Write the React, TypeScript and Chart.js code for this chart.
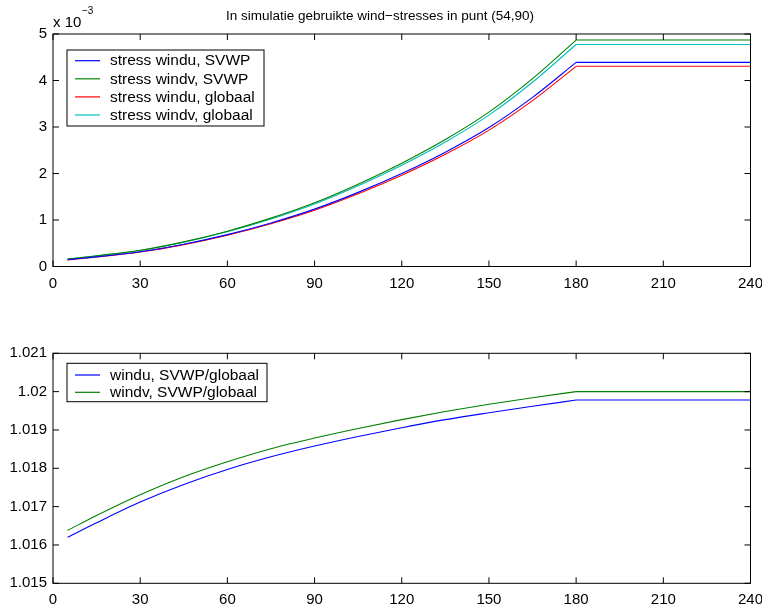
import React, { useEffect, useRef } from "react";
import { Chart, registerables } from "chart.js";

Chart.register(...registerables);

// ---- data ----
const timeSteps = [5, 15, 30, 45, 60, 75, 90, 105, 120, 135, 150, 165, 180, 240];
const plateauStart = 180;

// top panel, values in units of 1e-3
const stressWinduSVWP = [0.145, 0.207, 0.316, 0.478, 0.685, 0.937, 1.234, 1.594, 2.0, 2.459, 2.99, 3.638, 4.39, 4.39];
const stressWindvSVWP = [0.16, 0.23, 0.35, 0.53, 0.76, 1.04, 1.37, 1.77, 2.22, 2.73, 3.32, 4.04, 4.87, 4.87];
const stressWinduGlobaal = [0.1427, 0.2036, 0.3107, 0.4697, 0.6729, 0.9202, 1.2115, 1.5645, 1.9626, 2.4125, 2.9329, 3.568, 4.305, 4.305];
const stressWindvGlobaal = [0.157, 0.226, 0.344, 0.521, 0.746, 1.021, 1.345, 1.737, 2.178, 2.678, 3.256, 3.962, 4.775, 4.775];

// bottom panel, ratios
const ratioWindu = [1.0162, 1.01658, 1.01712, 1.01758, 1.01797, 1.0183, 1.01858, 1.01883, 1.01906, 1.01927, 1.01945, 1.01962, 1.01978, 1.01978];
const ratioWindv = [1.01638, 1.01677, 1.01731, 1.01778, 1.01817, 1.01851, 1.01879, 1.01904, 1.01927, 1.01948, 1.01967, 1.01984, 1.02, 1.02];

const topLabels = ["stress windu, SVWP", "stress windv, SVWP", "stress windu, globaal", "stress windv, globaal"];
const bottomLabels = ["windu, SVWP/globaal", "windv, SVWP/globaal"];
const titleText = "In simulatie gebruikte wind\u2212stresses in punt (54,90)";

const FONT = "'Liberation Sans', Arial, Helvetica, sans-serif";
const W = 762;
const H = 605;

const curvePts = (ys: number[]) =>
  timeSteps.map((x, i) => ({ x, y: ys[i] })).filter((p) => p.x <= plateauStart);
const flatPts = (ys: number[]) =>
  timeSteps.map((x, i) => ({ x, y: ys[i] })).filter((p) => p.x >= plateauStart);

function seriesPair(label: string, ys: number[], color: string) {
  return [
    { label, data: curvePts(ys), borderColor: color, cubicInterpolationMode: "monotone" },
    { label, data: flatPts(ys), borderColor: color, tension: 0, inLegend: false },
  ];
}

const framePlugin = {
  id: "frame",
  afterDraw(chart: any) {
    const { ctx, chartArea } = chart;
    const { left, right, top, bottom } = chartArea;
    const xs = chart.scales.x;
    const ys = chart.scales.y;
    const L = 6;
    ctx.save();
    ctx.strokeStyle = "#000";
    ctx.lineWidth = 1;
    ctx.strokeRect(left, top, right - left, bottom - top);
    ctx.beginPath();
    xs.ticks.forEach((t: any) => {
      const px = xs.getPixelForValue(t.value);
      ctx.moveTo(px, bottom);
      ctx.lineTo(px, bottom - L);
      ctx.moveTo(px, top);
      ctx.lineTo(px, top + L);
    });
    ys.ticks.forEach((t: any) => {
      const py = ys.getPixelForValue(t.value);
      ctx.moveTo(left, py);
      ctx.lineTo(left + L, py);
      ctx.moveTo(right, py);
      ctx.lineTo(right - L, py);
    });
    ctx.stroke();
    // legend box
    const lg = chart.options.plugins.boxLegend;
    if (lg) {
      const bx = left + lg.dx;
      const by = top + lg.dy;
      ctx.fillStyle = "#fff";
      ctx.fillRect(bx, by, lg.w, lg.h);
      ctx.strokeStyle = "#000";
      ctx.strokeRect(bx, by, lg.w, lg.h);
      ctx.font = `${lg.fontSize}px ${FONT}`;
      ctx.textBaseline = "middle";
      ctx.textAlign = "left";
      const entries = chart.data.datasets.filter((d: any) => d.inLegend !== false);
      entries.forEach((ds: any, i: number) => {
        const yy = by + lg.first + i * lg.row;
        ctx.strokeStyle = ds.borderColor;
        ctx.lineWidth = 1.2;
        ctx.beginPath();
        ctx.moveTo(bx + 8, yy);
        ctx.lineTo(bx + 33, yy);
        ctx.stroke();
        ctx.fillStyle = "#000";
        ctx.fillText(ds.label, bx + 43, yy + 0.5);
      });
    }
    ctx.restore();
  },
};

function makeOptions(p: {
  top: number;
  bottom: number;
  ymin: number;
  ymax: number;
  ystep: number;
  fmt: (v: number) => string;
  legend: any;
}) {
  return {
    responsive: false,
    animation: false as const,
    layout: { padding: { top: p.top, right: W - 750.5, left: 0, bottom: 0 } },
    elements: {
      point: { radius: 0 },
      line: { borderWidth: 1.1 },
    },
    plugins: {
      legend: { display: false },
      tooltip: { enabled: false },
      boxLegend: p.legend,
    },
    scales: {
      x: {
        type: "linear" as const,
        min: 0,
        max: 240,
        grid: { display: false, drawTicks: false },
        border: { display: false },
        ticks: { stepSize: 30, color: "#000", font: { size: 15, family: FONT }, padding: 8, maxRotation: 0, autoSkip: false },
        afterFit(s: any) {
          s.height = H - p.bottom;
          s.paddingLeft = 0;
          s.paddingRight = 0;
        },
      },
      y: {
        min: p.ymin,
        max: p.ymax,
        grid: { display: false, drawTicks: false },
        border: { display: false },
        ticks: {
          stepSize: p.ystep,
          color: "#000",
          font: { size: 15, family: FONT },
          padding: 6,
          callback: (v: any) => p.fmt(Number(v)),
        },
        afterFit(s: any) {
          s.width = 53;
          s.paddingTop = 0;
          s.paddingBottom = 0;
        },
      },
    },
  };
}

export default function App() {
  const c1 = useRef<HTMLCanvasElement>(null);
  const c2 = useRef<HTMLCanvasElement>(null);

  useEffect(() => {
    Chart.defaults.font.family = FONT;
    const ch1 = new Chart(c1.current as HTMLCanvasElement, {
      type: "line",
      data: {
        datasets: [
          ...seriesPair(topLabels[0], stressWinduSVWP, "#0000ff"),
          ...seriesPair(topLabels[1], stressWindvSVWP, "#008000"),
          ...seriesPair(topLabels[2], stressWinduGlobaal, "#ff0000"),
          ...seriesPair(topLabels[3], stressWindvGlobaal, "#00bfbf"),
        ] as any,
      },
      options: makeOptions({
        top: 34,
        bottom: 266.5,
        ymin: 0,
        ymax: 5,
        ystep: 1,
        fmt: (v) => String(Math.round(v)),
        legend: { dx: 14, dy: 16, w: 197, h: 76, first: 10.7, row: 18.1, fontSize: 15.5 },
      }) as any,
      plugins: [framePlugin],
    });
    const ch2 = new Chart(c2.current as HTMLCanvasElement, {
      type: "line",
      data: {
        datasets: [
          ...seriesPair(bottomLabels[0], ratioWindu, "#0000ff"),
          ...seriesPair(bottomLabels[1], ratioWindv, "#008000"),
        ] as any,
      },
      options: makeOptions({
        top: 353.3,
        bottom: 583.3,
        ymin: 1.015,
        ymax: 1.021,
        ystep: 0.001,
        fmt: (v) => String(Number(v.toFixed(3))),
        legend: { dx: 14, dy: 10, w: 200, h: 38.4, first: 11.7, row: 17.3, fontSize: 15.5 },
      }) as any,
      plugins: [framePlugin],
    });
    return () => {
      ch1.destroy();
      ch2.destroy();
    };
  }, []);

  const cv: React.CSSProperties = { position: "absolute", left: 0, top: 0, width: W, height: H };
  return (
    <div style={{ position: "absolute", left: 0, top: 0, width: W, height: H, background: "#fff", fontFamily: FONT, color: "#000" }}>
      <canvas ref={c1} width={W} height={H} style={cv} />
      <canvas ref={c2} width={W} height={H} style={cv} />
      <div style={{ position: "absolute", left: 226, top: 8, fontSize: 13.5, lineHeight: "16px", whiteSpace: "nowrap" }}>{titleText}</div>
      <div style={{ position: "absolute", left: 53, top: 14, fontSize: 15, lineHeight: "15px", whiteSpace: "nowrap" }}>x 10</div>
      <div style={{ position: "absolute", left: 82, top: 6, fontSize: 10, lineHeight: "10px", whiteSpace: "nowrap" }}>{"\u22123"}</div>
    </div>
  );
}
